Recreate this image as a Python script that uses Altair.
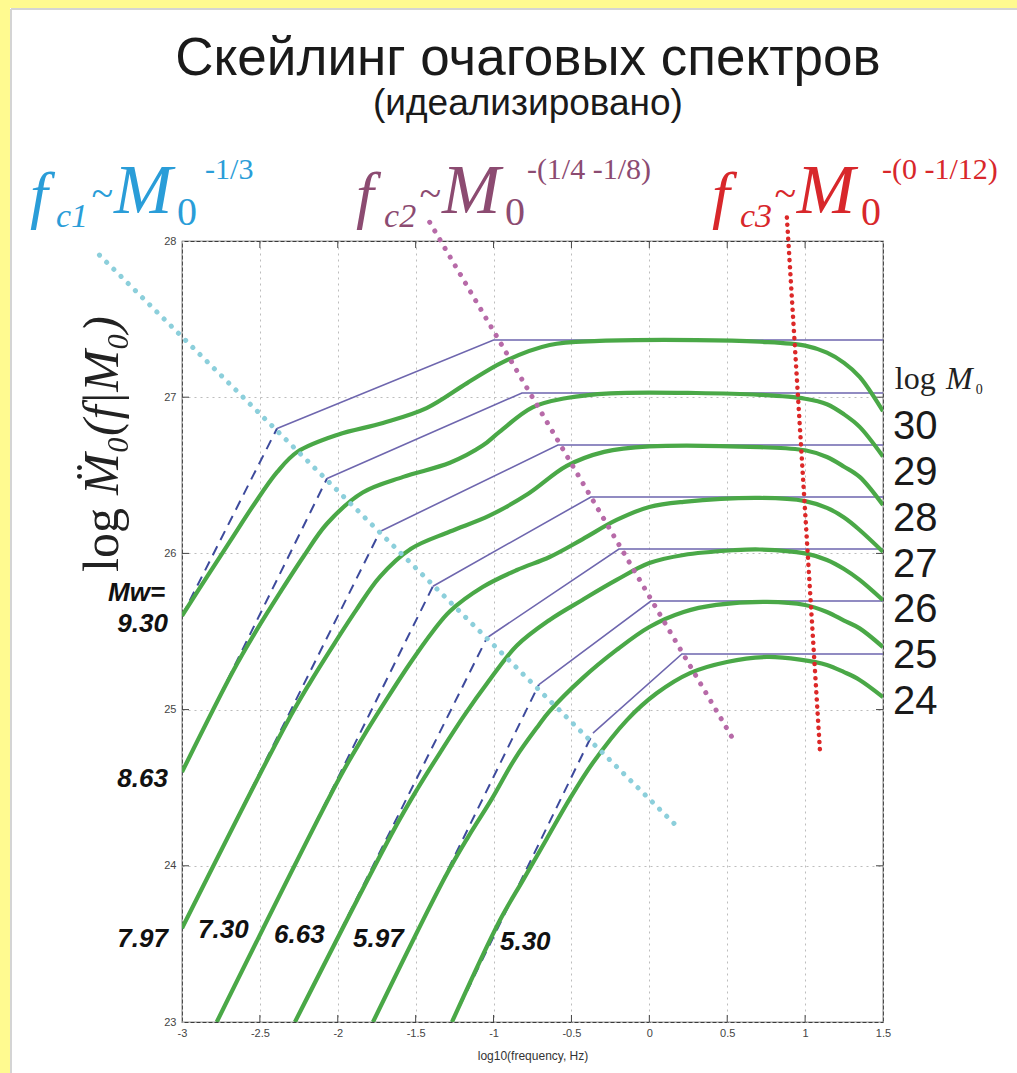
import altair as alt
import pandas as pd

# ---------------- axes ----------------
x_ticks = [-3, -2.5, -2, -1.5, -1, -0.5, 0, 0.5, 1, 1.5]
y_ticks = [23, 24, 25, 26, 27, 28]
X_DOMAIN = [-3, 1.5]
Y_DOMAIN = [23, 28]

# ---------------- source spectra ----------------
log_m0 = [30, 29, 28, 27, 26, 25, 24]
mw = ["9.30", "8.63", "7.97", "7.30", "6.63", "5.97", "5.30"]

# corner points of the idealised broken-line spectra
fc1_x = [-2.39, -2.069, -1.729, -1.389, -1.042, -0.709, -0.362]
fc1_y = [26.80, 26.48, 26.14, 25.79, 25.46, 25.16, 24.85]
fc2_x = [-1.00, -0.818, -0.587, -0.375, -0.195, 0.010, 0.209]
plateau_y = [27.366, 27.027, 26.694, 26.361, 26.028, 25.695, 25.356]
# low-frequency end of each f^2 asymptote
low_x = [-3.0, -3.0, -3.0, -2.777, -2.275, -1.774, -1.267]
low_y = [25.60, 24.60, 23.60, 23.0, 23.0, 23.0, 23.0]

# smooth spectra, one per log M0
curve_30_x = [-3.0, -2.84, -2.69, -2.54, -2.39, -2.26, -2.0, -1.71, -1.43, -1.17, -0.94, -0.64, -0.32, 0.3, 0.71, 1.0, 1.14, 1.25, 1.35, 1.5]
curve_30_y = [25.60, 25.85, 26.08, 26.31, 26.52, 26.65, 26.76, 26.835, 26.93, 27.09, 27.225, 27.334, 27.36, 27.366, 27.355, 27.33, 27.285, 27.22, 27.13, 26.91]
curve_29_x = [-3.0, -2.67, -2.52, -2.37, -2.22, -2.07, -1.84, -1.58, -1.28, -1.07, -0.96, -0.75, -0.53, -0.25, 0.3, 0.71, 1.0, 1.14, 1.25, 1.35, 1.5]
curve_29_y = [24.60, 25.25, 25.51, 25.75, 25.98, 26.19, 26.39, 26.49, 26.58, 26.69, 26.78, 26.935, 26.995, 27.025, 27.027, 27.015, 26.99, 26.955, 26.89, 26.81, 26.62]
curve_28_x = [-3.0, -2.33, -2.18, -2.03, -1.88, -1.73, -1.53, -1.28, -1.03, -0.78, -0.53, -0.29, 0.0, 0.71, 1.0, 1.14, 1.25, 1.35, 1.5]
curve_28_y = [23.60, 24.91, 25.17, 25.41, 25.64, 25.85, 26.03, 26.14, 26.24, 26.38, 26.56, 26.65, 26.685, 26.68, 26.66, 26.617, 26.555, 26.49, 26.31]
curve_27_x = [-2.777, -1.99, -1.84, -1.69, -1.54, -1.39, -1.28, -1.07, -0.85, -0.64, -0.43, -0.21, 0.0, 0.22, 0.71, 1.0, 1.14, 1.25, 1.35, 1.5]
curve_27_y = [23.0, 24.56, 24.82, 25.06, 25.29, 25.50, 25.63, 25.785, 25.894, 25.977, 26.09, 26.214, 26.297, 26.33, 26.355, 26.335, 26.291, 26.23, 26.15, 26.01]
curve_26_x = [-2.275, -1.64, -1.49, -1.34, -1.19, -1.04, -0.85, -0.64, -0.43, -0.21, 0.0, 0.22, 0.54, 0.71, 1.0, 1.14, 1.25, 1.35, 1.5]
curve_26_y = [23.0, 24.23, 24.49, 24.73, 24.96, 25.17, 25.41, 25.574, 25.702, 25.83, 25.938, 25.99, 26.02, 26.025, 26.0, 25.958, 25.9, 25.83, 25.70]
curve_25_x = [-1.774, -1.31, -1.16, -1.01, -0.86, -0.71, -0.64, -0.43, -0.21, 0.0, 0.22, 0.43, 0.755, 1.0, 1.14, 1.25, 1.35, 1.5]
curve_25_y = [23.0, 23.93, 24.19, 24.43, 24.69, 24.90, 24.99, 25.20, 25.382, 25.529, 25.625, 25.67, 25.69, 25.67, 25.625, 25.57, 25.52, 25.40]
curve_24_x = [-1.267, -0.96, -0.81, -0.66, -0.51, -0.362, -0.144, 0.049, 0.261, 0.498, 0.755, 0.967, 1.14, 1.25, 1.35, 1.5]
curve_24_y = [23.0, 23.65, 23.91, 24.17, 24.43, 24.66, 24.933, 25.106, 25.234, 25.305, 25.337, 25.32, 25.286, 25.24, 25.19, 25.08]

# corner-frequency scaling guides
fc1_guide_x = [-3.53, 0.18]
fc1_guide_y = [27.91, 24.25]
fc2_guide_x = [-1.41, 0.55]
fc2_guide_y = [28.12, 24.79]
fc3_guide_x = [0.883, 1.095]
fc3_guide_y = [28.15, 24.74]

# ---------------- encodings ----------------
SANS = "Liberation Sans"
SERIF = "Liberation Serif"

AX_X = alt.Axis(values=x_ticks, labelExpr="'' + datum.value", title="log10(frequency, Hz)",
                grid=True, gridDash=[2, 4], gridColor="#bdbdbd", ticks=False, domain=False,
                labelFont=SANS, labelFontSize=11, labelColor="#444", labelPadding=5,
                labelFlush=False, titleFont=SANS, titleFontSize=12, titleFontWeight="normal",
                titleColor="#333", titlePadding=12)
AX_Y = alt.Axis(values=y_ticks, labelExpr="'' + datum.value", title=None,
                grid=True, gridDash=[2, 4], gridColor="#bdbdbd", ticks=False, domain=False,
                labelFont=SANS, labelFontSize=11, labelColor="#444", labelPadding=6,
                labelFlush=False)


def xe(field="x"):
    return alt.X(f"{field}:Q", scale=alt.Scale(domain=X_DOMAIN, nice=False, zero=False), axis=AX_X)


def ye(field="y"):
    return alt.Y(f"{field}:Q", scale=alt.Scale(domain=Y_DOMAIN, nice=False, zero=False), axis=AX_Y)


ONE = pd.DataFrame({"k": [0]})

# ---------------- page frame ----------------
frame = [
    alt.Chart(ONE).mark_rect(color="#fffa90").encode(
        x=alt.value(-182), x2=alt.value(-172), y=alt.value(-241), y2=alt.value(832)),
    alt.Chart(ONE).mark_rect(color="#fffa90").encode(
        x=alt.value(-182), x2=alt.value(835), y=alt.value(-241), y2=alt.value(-233)),
    alt.Chart(ONE).mark_rule(color="#d4d4d4", strokeWidth=2).encode(
        x=alt.value(-171), y=alt.value(-232), y2=alt.value(832)),
    alt.Chart(ONE).mark_rule(color="#d4d4d4", strokeWidth=2).encode(
        x=alt.value(-171), x2=alt.value(835), y=alt.value(-232)),
]

# ---------------- inward ticks ----------------
tick_rows = []
for v in x_ticks[1:-1]:
    tick_rows.append({"x": v, "x2": v, "y": 23, "y2": 23.045})
    tick_rows.append({"x": v, "x2": v, "y": 28, "y2": 27.955})
for v in y_ticks[1:-1]:
    tick_rows.append({"x": -3, "x2": -2.955, "y": v, "y2": v})
    tick_rows.append({"x": 1.5, "x2": 1.455, "y": v, "y2": v})
ticks = alt.Chart(pd.DataFrame(tick_rows)).mark_rule(color="#444", strokeWidth=1).encode(
    x=xe(), x2="x2:Q", y=ye(), y2="y2:Q")

# ---------------- spectra ----------------
curves = [(curve_30_x, curve_30_y), (curve_29_x, curve_29_y), (curve_28_x, curve_28_y),
          (curve_27_x, curve_27_y), (curve_26_x, curve_26_y), (curve_25_x, curve_25_y),
          (curve_24_x, curve_24_y)]

green_rows, broken_rows, dash_rows = [], [], []
for i, m in enumerate(log_m0):
    cx, cy = curves[i]
    green_rows += [{"x": a, "y": b, "s": m} for a, b in zip(cx, cy)]
    broken_rows += [
        {"x": fc1_x[i], "y": fc1_y[i], "s": m, "o": 0},
        {"x": fc2_x[i], "y": plateau_y[i], "s": m, "o": 1},
        {"x": X_DOMAIN[1], "y": plateau_y[i], "s": m, "o": 2},
    ]
    dash_rows += [
        {"x": low_x[i], "y": low_y[i], "s": m, "o": 0},
        {"x": fc1_x[i], "y": fc1_y[i], "s": m, "o": 1},
    ]

dashed = alt.Chart(pd.DataFrame(dash_rows)).mark_line(
    color="#3d4a9c", strokeWidth=2, strokeDash=[10, 7], clip=True).encode(
    x=xe(), y=ye(), detail="s:N", order="o:Q")

broken = alt.Chart(pd.DataFrame(broken_rows)).mark_line(
    color="#6e66ae", strokeWidth=1.6, clip=True).encode(
    x=xe(), y=ye(), detail="s:N", order="o:Q")

green = alt.Chart(pd.DataFrame(green_rows)).mark_line(
    color="#4aa847", strokeWidth=4.2, interpolate="catmull-rom", clip=True).encode(
    x=xe(), y=ye(), detail="s:N")


def guide(xs, ys, color, gap, width):
    df = pd.DataFrame({"x": xs, "y": ys})
    return alt.Chart(df).mark_line(color=color, strokeWidth=width, strokeCap="round",
                                   strokeDash=[0.1, gap], clip=False).encode(x=xe(), y=ye())


guides = [
    guide(fc1_guide_x, fc1_guide_y, "#8ccfdb", 10, 5),
    guide(fc2_guide_x, fc2_guide_y, "#b76aa8", 10, 5),
    guide(fc3_guide_x, fc3_guide_y, "#dc2828", 7, 4.5),
]


# ---------------- text ----------------
def txt(s, x, y, size, color="#1a1a1a", font=SANS, style="normal", weight="normal",
        align="left", angle=0):
    df = pd.DataFrame({"x": [x], "y": [y], "t": [s]})
    return alt.Chart(df).mark_text(
        font=font, fontSize=size, fontStyle=style, fontWeight=weight, color=color,
        align=align, baseline="alphabetic", angle=angle).encode(x=xe(), y=ye(), text="t:N")


texts = [
    txt("Скейлинг очаговых спектров", -0.779, 29.063, 53, align="center"),
    txt("(идеализировано)", -0.779, 28.807, 37, align="center"),
]

# scaling laws of the three corner frequencies
laws = [
    ("#2a9dd8", [-3.976, -3.809, -3.584, -3.436, -3.032, -2.852], "c1", "-1/3"),
    ("#8c4b71", [-1.883, -1.703, -1.479, -1.331, -0.927, -0.786], "c2", "-(1/4 -1/8)"),
    ("#d8272b", [0.402, 0.582, 0.800, 0.947, 1.358, 1.493], "c3", "-(0 -1/12)"),
]
for color, xs, sub, power in laws:
    texts += [
        txt("f", xs[0], 28.16, 64, color, SERIF, "italic"),
        txt(sub, xs[1], 28.09, 34, color, SERIF, "italic"),
        txt("~", xs[2], 28.22, 40, color, SERIF, "italic"),
        txt("M", xs[3], 28.18, 70, color, SERIF, "italic"),
        txt("0", xs[4], 28.10, 40, color, SERIF),
        txt(power, xs[5], 28.40, 30, color, SERIF),
    ]

# y-axis title
texts += [
    txt("log", -3.411, 25.881, 50, "#222", SERIF, angle=270),
    txt("M\u0308\u2080(f|M\u2080)", -3.411, 26.374, 50, "#222", SERIF, "italic", angle=270),
]

# log M0 column on the right
texts += [
    txt("log", 1.576, 27.053, 32, "#222", SERIF),
    txt("M", 1.904, 27.053, 32, "#222", SERIF, "italic"),
    txt("0", 2.096, 27.02, 14, "#222", SERIF),
]
for i, m in enumerate(log_m0):
    texts.append(txt(str(m), 1.564, 26.732 - 0.2935 * i, 40, "#1a1a1a"))

# moment magnitudes
mw_pos = [(-3.090, 25.497, "right"), (-3.090, 24.504, "right"), (-3.090, 23.480, "right"),
          (-2.897, 23.538, "left"), (-2.409, 23.506, "left"), (-1.902, 23.480, "left"),
          (-0.959, 23.461, "left")]
texts.append(txt("Mw=", -3.475, 25.695, 26, "#111", SANS, "italic", "bold"))
for label, (px, py, al) in zip(mw, mw_pos):
    texts.append(txt(label, px, py, 26, "#111", SANS, "italic", "bold", align=al))

chart = alt.layer(
    *frame, ticks, dashed, broken, green, *guides, *texts
).properties(
    width=701, height=781,
    padding={"left": 182, "top": 241, "right": 134, "bottom": 51},
    autosize=alt.AutoSizeParams(type="none"),
    background="white",
).configure_view(stroke="#3a3a3a", strokeWidth=1.2)

chart.save("out.html", embed_options={"renderer": "svg", "actions": False})
